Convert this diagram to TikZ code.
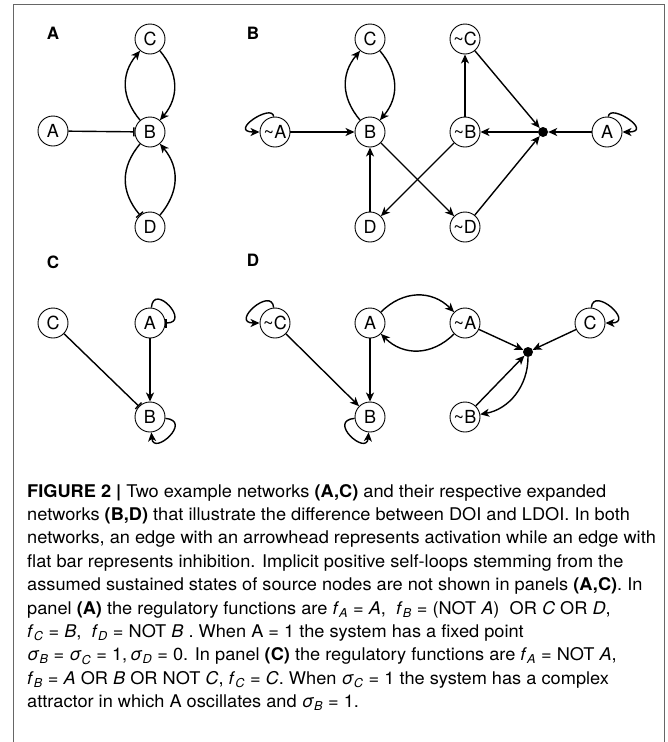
\documentclass[tikz,border=0pt]{standalone}
\usepackage{fontspec}
\setmainfont{TeX Gyre Heros}
\newfontfamily\capfont{TeX Gyre Heros}[FakeStretch=1.04]
\usetikzlibrary{arrows.meta}
% italic variable with italic subscript
\newcommand\sv[2]{\textit{#1}\textsubscript{\textit{#2}}}

\begin{document}
\begin{tikzpicture}[x=1pt,y=1pt,>={Stealth[length=9pt,width=8pt,inset=2.5pt]},
  gene/.style={circle,draw,line width=0.9pt,minimum size=30pt,inner sep=0pt,
    font=\fontsize{18}{18}\selectfont},
  junc/.style={circle,fill,inner sep=0pt,minimum size=10pt},
  act/.style={->,line width=1.4pt},
  inh/.style={-{Bar[width=9pt]},line width=1.4pt},
  panel/.style={font=\bfseries\fontsize{17}{17}\selectfont}]
  % Configurable parameters
  \def\bend{1.1}
  %
  \useasboundingbox (0,0) rectangle (667,-742);
  %
  % Frame
  \draw[black!60,line width=1pt] (13,-742) |- (664,-4) -- (664,-742);
  %
  % Panel A
  \node[panel] (labA) at (53,-33) {A};
  \node[gene] (aC) at (150,-39) {C};
  \node[gene] (aA) at (53,-131) {A};
  \node[gene] (aB) at (150,-132) {B};
  \node[gene] (aD) at (150,-227) {D};
  \draw[inh] (aA) -- (aB);
  \draw[act] (aB.130) to[out=130,in=-130,looseness=\bend] (aC.-130);
  \draw[act] (aC.-50) to[out=-50,in=50,looseness=\bend] (aB.50);
  \draw[inh] (aB.-130) to[out=-130,in=130,looseness=\bend] (aD.130);
  \draw[act] (aD.50) to[out=50,in=-50,looseness=\bend] (aB.-50);
  %
  % Panel B
  \node[panel] (labB) at (253,-33) {B};
  \node[gene] (bC) at (370,-39) {C};
  \node[gene] (bnC) at (465,-39) {\textasciitilde C};
  \node[gene] (bnA) at (275,-132) {\textasciitilde A};
  \node[gene] (bB) at (370,-132) {B};
  \node[gene] (bnB) at (465,-132) {\textasciitilde B};
  \node[junc] (bdot) at (543,-132) {};
  \node[gene] (bA) at (607,-132) {A};
  \node[gene] (bD) at (370,-227) {D};
  \node[gene] (bnD) at (465,-227) {\textasciitilde D};
  \draw[act] (bnA) to[out=95,in=180,out distance=14pt,in distance=32pt] (bnA);
  \draw[act] (bA) to[out=85,in=0,out distance=14pt,in distance=32pt] (bA);
  \draw[act] (bnA) -- (bB);
  \draw[act] (bB.130) to[out=130,in=-130,looseness=\bend] (bC.-130);
  \draw[act] (bC.-50) to[out=-50,in=50,looseness=\bend] (bB.50);
  \draw[act] (bD) -- (bB);
  \draw[act] (bB) -- (bnD);
  \draw[act] (bnB) -- (bD);
  \draw[act] (bnB) -- (bnC);
  \draw[act] (bnC) -- (bdot);
  \draw[act] (bnD) -- (bdot);
  \draw[act] (bA) -- (bdot);
  \draw[act] (bdot) -- (bnB);
  %
  % Panel C
  \node[panel] (labC) at (53,-262) {C};
  \node[gene] (cC) at (53,-323) {C};
  \node[gene] (cA) at (150,-323) {A};
  \node[gene] (cB) at (150,-417) {B};
  \draw[inh] (cA) to[out=85,in=0,out distance=26pt,in distance=26pt] (cA);
  \draw[act] (cA) -- (cB);
  \draw[inh] (cC) -- (cB);
  \draw[act] (cB) to[out=-5,in=-85,out distance=28pt,in distance=24pt] (cB);
  %
  % Panel D
  \node[panel] (labD) at (253,-260) {D};
  \node[gene] (dnC) at (275,-323) {\textasciitilde C};
  \node[gene] (dA) at (370,-323) {A};
  \node[gene] (dnA) at (465,-323) {\textasciitilde A};
  \node[gene] (dC) at (590,-323) {C};
  \node[junc] (ddot) at (528,-352) {};
  \node[gene] (dB) at (370,-417) {B};
  \node[gene] (dnB) at (465,-417) {\textasciitilde B};
  \draw[act] (dnC) to[out=95,in=180,out distance=22pt,in distance=30pt] (dnC);
  \draw[act] (dC) to[out=85,in=0,out distance=22pt,in distance=30pt] (dC);
  \draw[act] (dB) to[out=185,in=-95,out distance=28pt,in distance=24pt] (dB);
  \draw[act] (dnC) -- (dB);
  \draw[act] (dA) -- (dB);
  \draw[act] (dA.45) to[out=45,in=135,looseness=\bend] (dnA.135);
  \draw[act] (dnA.-135) to[out=-135,in=-45,looseness=\bend] (dA.-45);
  \draw[act] (dnA) -- (ddot);
  \draw[act] (dC) -- (ddot);
  \draw[act] (dnB) -- (ddot);
  \draw[act] (ddot) to[out=-90,in=10] (dnB.10);
  %
  % Caption
  \node[anchor=north west,align=left,inner sep=0pt,
    font=\capfont\fontsize{17.5}{23.4}\selectfont] (cap) at (27,-484)
  {\textbf{FIGURE 2 |} Two example networks \textbf{(A,C)} and their respective expanded\\
   networks \textbf{(B,D)} that illustrate the difference between DOI and LDOI. In both\\
   networks, an edge with an arrowhead represents activation while an edge with\\
   flat bar represents inhibition. Implicit positive self-loops stemming from the\\
   assumed sustained states of source nodes are not shown in panels \textbf{(A,C)}. In\\
   panel \textbf{(A)} the regulatory functions are \sv{f}{A} = \textit{A},\ \ \sv{f}{B} = (NOT \textit{A})\ \ OR \textit{C} OR \textit{D},\\
   \sv{f}{C} = \textit{B},\ \ \sv{f}{D} = NOT \textit{B} . When A = 1 the system has a fixed point\\
   \sv{σ}{B} = \sv{σ}{C} = 1,\,\sv{σ}{D} = 0. In panel \textbf{(C)} the regulatory functions are \sv{f}{A} = NOT \textit{A},\\
   \sv{f}{B} = \textit{A} OR \textit{B} OR NOT \textit{C}, \sv{f}{C} = \textit{C}. When \sv{σ}{C} = 1 the system has a complex\\
   attractor in which A oscillates and \sv{σ}{B} = 1.};
\end{tikzpicture}
\end{document}
